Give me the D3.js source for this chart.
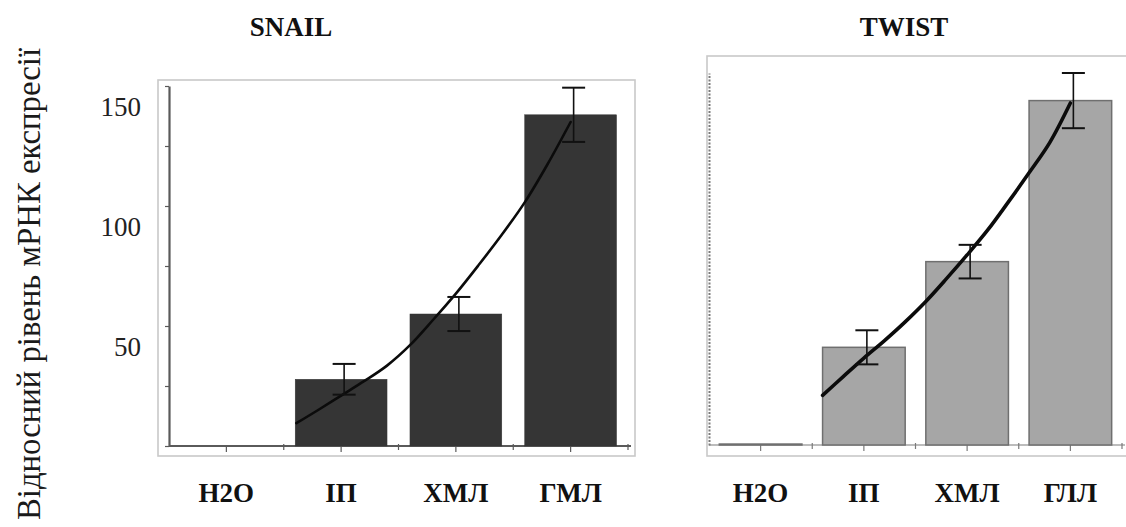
<!DOCTYPE html>
<html>
<head>
<meta charset="utf-8">
<script src="https://cdn.jsdelivr.net/npm/d3@7"></script>
<style>
  html, body { margin: 0; padding: 0; background: #fff; }
  svg { display: block; }
  svg text { font-family: "Liberation Serif", "Times New Roman", serif; }
</style>
</head>
<body>
<svg id="chart" width="1126" height="527"></svg>
<script>
// ---------- data ----------
const yAxisTitle = "Відносний рівень мРНК експресії";
const panelTitles = ["SNAIL", "TWIST"];
const snailCategories = ["H2O", "ІП", "ХМЛ", "ГМЛ"];
const twistCategories = ["H2O", "ІП", "ХМЛ", "ГЛЛ"];
const snailValues = [0, 27.8, 55, 138];
const snailErrors = [0, 6.4, 7.1, 11.3];
const twistValues = [0.4, 40.7, 76.4, 143.5];
const twistErrors = [0, 7.1, 7.0, 11.5];
// trend lines: position along the category axis (0 = first category) and value
const snailTrendPos = [0.61, 0.8, 1.0, 1.2, 1.4, 1.6, 1.8, 2.0, 2.2, 2.4, 2.6, 2.8, 3.0];
const snailTrendVal = [9.5, 15, 21, 27, 33.5, 42, 52.5, 63.5, 75.5, 88, 101.5, 117.5, 135];
const twistTrendPos = [0.6, 0.8, 1.0, 1.2, 1.4, 1.6, 1.8, 2.0, 2.2, 2.4, 2.6, 2.8, 3.0];
const twistTrendVal = [20.7, 28.5, 36.2, 43.5, 51.3, 59.8, 69.3, 79.2, 89.6, 101.3, 113.4, 126, 142.5];
const yTickValues = [0, 25, 50, 75, 100, 125, 150];
const yTickLabels = [50, 100, 150];

// ---------- drawing ----------
const svg = d3.select("#chart");
const serif = '"Liberation Serif", "Times New Roman", serif';

// y axis title
svg.append("text")
  .attr("transform", "translate(40,284) rotate(-90)")
  .attr("text-anchor", "middle")
  .style("font-family", serif)
  .attr("font-size", 33)
  .attr("fill", "#1a1a1a")
  .attr("textLength", 472)
  .attr("lengthAdjust", "spacingAndGlyphs")
  .text(yAxisTitle);

function panel(cfg) {
  const g = svg.append("g");
  // frame
  g.append("rect")
    .attr("x", cfg.frame[0]).attr("y", cfg.frame[1])
    .attr("width", cfg.frame[2]).attr("height", cfg.frame[3])
    .attr("fill", "#fff").attr("stroke", "#c9c9c9").attr("stroke-width", 1.6);

  const x = d3.scaleBand().domain(cfg.categories)
    .range(cfg.xRange).paddingInner(0.2).paddingOuter(0.1);
  const y = d3.scaleLinear().domain(cfg.yDomain).range(cfg.yRange);
  const step = x.step();
  const posScale = d3.scaleLinear().domain([0, cfg.categories.length - 1])
    .range([x(cfg.categories[0]) + x.bandwidth() / 2,
            x(cfg.categories[cfg.categories.length - 1]) + x.bandwidth() / 2]);

  // title
  svg.append("text")
    .attr("x", cfg.titleX).attr("y", 36)
    .attr("text-anchor", "middle")
    .style("font-family", serif).attr("font-weight", "bold")
    .attr("font-size", 27).attr("fill", "#111")
    .text(cfg.title);

  // x axis line + ticks
  const base = y(0);
  const axisColor = cfg.axisColor;
  g.append("line")
    .attr("x1", cfg.xRange[0]).attr("x2", cfg.xRange[1] + 3)
    .attr("y1", base).attr("y2", base)
    .attr("stroke", axisColor).attr("stroke-width", cfg.xAxisWidth);
  const xt = d3.axisBottom(x).tickSize(6).tickFormat("");
  const xg = g.append("g").attr("transform", `translate(0,${base})`).call(xt);
  xg.select(".domain").remove();
  xg.selectAll(".tick line").attr("stroke", axisColor).attr("stroke-width", 1.2);
  // band boundary ticks
  g.selectAll(".bnd").data(d3.range(1, cfg.categories.length + 1)).join("line")
    .attr("x1", i => cfg.xRange[0] + x.paddingOuter() * step + i * step - (x.paddingInner() * step) / 2)
    .attr("x2", i => cfg.xRange[0] + x.paddingOuter() * step + i * step - (x.paddingInner() * step) / 2)
    .attr("y1", base - 2).attr("y2", base + 4)
    .attr("stroke", axisColor).attr("stroke-width", 1.2);

  // category labels
  g.selectAll(".clab").data(cfg.categories).join("text")
    .attr("x", d => x(d) + x.bandwidth() / 2)
    .attr("y", 502)
    .attr("text-anchor", "middle")
    .style("font-family", serif).attr("font-weight", "bold")
    .attr("font-size", 27).attr("fill", "#111")
    .text(d => d);

  // y axis
  const ya = d3.axisLeft(y).tickValues(yTickValues)
    .tickSize(cfg.yTickSize).tickSizeOuter(0).tickPadding(24)
    .tickFormat(d => cfg.showLabels && yTickLabels.includes(d) ? d : "");
  const yg = g.append("g").attr("transform", `translate(${cfg.xRange[0]},0)`).call(ya);
  yg.attr("font-family", null);
  yg.select(".domain")
    .attr("stroke", axisColor).attr("stroke-width", cfg.yAxisWidth)
    .attr("stroke-dasharray", cfg.yDash);
  yg.selectAll(".tick line").attr("stroke", axisColor).attr("stroke-width", 1.2);
  yg.selectAll(".tick text")
    .style("font-family", serif).attr("font-size", 27).attr("fill", "#222")
    .attr("y", 21);

  // bars
  const data = cfg.categories.map((c, i) => ({ c, v: cfg.values[i], e: cfg.errors[i] }));
  g.selectAll(".bar").data(data).join("rect")
    .attr("x", d => x(d.c))
    .attr("y", d => y(d.v))
    .attr("width", x.bandwidth())
    .attr("height", d => base - y(d.v))
    .attr("fill", cfg.barFill)
    .attr("stroke", d => d.v > 0 ? cfg.barStroke : "none")
    .attr("stroke-width", cfg.barStrokeWidth);

  // trend line
  const pts = cfg.trendPos.map((p, i) => [posScale(p), y(cfg.trendVal[i])]);
  g.append("path")
    .attr("d", d3.line().curve(d3.curveCatmullRom.alpha(0.5))(pts))
    .attr("fill", "none").attr("stroke", "#0b0b0b")
    .attr("stroke-width", cfg.trendWidth).attr("stroke-linecap", "round");

  // error bars
  const eb = data.filter(d => d.e > 0);
  const cx = d => x(d.c) + x.bandwidth() / 2 + 3;
  g.selectAll(".ev").data(eb).join("line")
    .attr("x1", cx).attr("x2", cx)
    .attr("y1", d => y(d.v + d.e)).attr("y2", d => y(d.v - d.e))
    .attr("stroke", "#111").attr("stroke-width", 1.6);
  g.selectAll(".et").data(eb).join("line")
    .attr("x1", d => cx(d) - 11.5).attr("x2", d => cx(d) + 11.5)
    .attr("y1", d => y(d.v + d.e)).attr("y2", d => y(d.v + d.e))
    .attr("stroke", "#111").attr("stroke-width", 2);
  g.selectAll(".eb").data(eb).join("line")
    .attr("x1", d => cx(d) - 11.5).attr("x2", d => cx(d) + 11.5)
    .attr("y1", d => y(d.v - d.e)).attr("y2", d => y(d.v - d.e))
    .attr("stroke", "#111").attr("stroke-width", 2);
}

panel({
  title: panelTitles[0], titleX: 291,
  frame: [158, 80, 477, 376],
  categories: snailCategories, values: snailValues, errors: snailErrors,
  trendPos: snailTrendPos, trendVal: snailTrendVal,
  xRange: [169, 628], yDomain: [0, 150], yRange: [446, 86],
  axisColor: "#5a5a5a", xAxisWidth: 1.8, yAxisWidth: 2.2, yDash: null, yTickSize: 4,
  showLabels: true,
  barFill: "#353535", barStroke: "#353535", barStrokeWidth: 0.5,
  trendWidth: 2.6
});

panel({
  title: panelTitles[1], titleX: 904,
  frame: [707, 56, 440, 400],
  categories: twistCategories, values: twistValues, errors: twistErrors,
  trendPos: twistTrendPos, trendVal: twistTrendVal,
  xRange: [709, 1122], yDomain: [0, 155], yRange: [445, 73],
  axisColor: "#7a7a7a", xAxisWidth: 1.2, yAxisWidth: 2, yDash: "2,1.5", yTickSize: 0,
  showLabels: false,
  barFill: "#a6a6a6", barStroke: "#6f6f6f", barStrokeWidth: 1.5,
  trendWidth: 3.6
});
</script>
</body>
</html>
